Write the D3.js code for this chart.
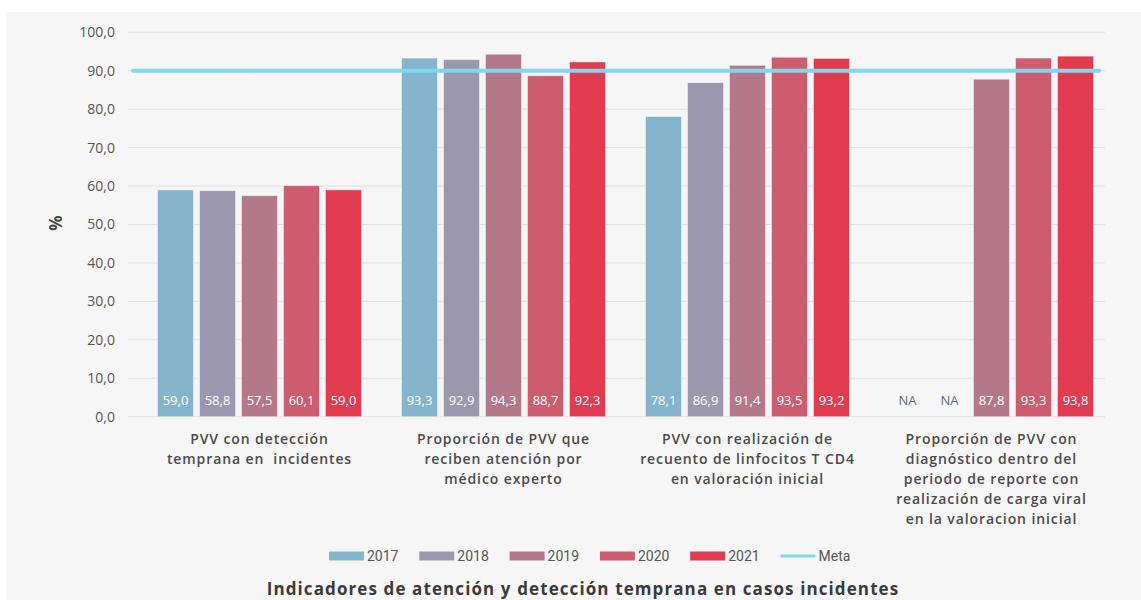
<!DOCTYPE html>
<html>
<head>
<meta charset="utf-8">
<script src="https://cdn.jsdelivr.net/npm/d3@7/dist/d3.min.js"></script>
<style>
  html, body { margin: 0; padding: 0; background: #ffffff; }
  svg { display: block; }
  text { font-family: "Open Sans", "DejaVu Sans", sans-serif; }
</style>
</head>
<body>
<svg id="chart" width="1141" height="600"></svg>
<script>
// Indicator categories (each entry is the wrapped label lines)
const categories = [
  ["PVV con detección", "temprana en  incidentes"],
  ["Proporción de PVV que", "reciben atención por", "médico experto"],
  ["PVV con realización de", "recuento de linfocitos T CD4", "en valoración inicial"],
  ["Proporción de PVV con", "diagnóstico dentro del", "periodo de reporte con", "realización de carga viral", "en la valoracion inicial"]
];
const years = ["2017", "2018", "2019", "2020", "2021"];
// Percentages per year, one value per category (null = not available)
const values2017 = [59.0, 93.3, 78.1, null];
const values2018 = [58.8, 92.9, 86.9, null];
const values2019 = [57.5, 94.3, 91.4, 87.8];
const values2020 = [60.1, 88.7, 93.5, 93.3];
const values2021 = [59.0, 92.3, 93.2, 93.8];
const metaValue = 90;
const yTicks = [0, 10, 20, 30, 40, 50, 60, 70, 80, 90, 100];
const chartTitle = "Indicadores de atención y detección temprana en casos incidentes";
const yLabel = "%";

const seriesValues = [values2017, values2018, values2019, values2020, values2021];
const colors = ["#84b5cc", "#9b97ad", "#b4788b", "#cc5c6e", "#e23b50"];
const metaColor = "#80d8ee";

const svg = d3.select("#chart");
const W = 1141, H = 600;

// panel background
svg.append("rect").attr("x", 6).attr("y", 12).attr("width", W - 6).attr("height", H - 12)
  .attr("fill", "#f6f6f6");

const locale = d3.formatLocale({ decimal: ",", thousands: ".", grouping: [3], currency: ["", ""] });
const fmt = locale.format(".1f");

const y = d3.scaleLinear().domain([0, 100]).range([416.7, 32.3]);
const x0 = d3.scaleBand().domain(d3.range(categories.length)).range([137.5, 1113.5]).padding(0);
const x1 = d3.scaleBand().domain(years).range([20, 224]).paddingInner(1 / 7).paddingOuter(0);

const gridLeft = 128, gridRight = 1105;

// grid lines
svg.append("g").selectAll("line").data(yTicks).join("line")
  .attr("x1", gridLeft).attr("x2", gridRight)
  .attr("y1", d => y(d)).attr("y2", d => y(d))
  .attr("stroke", "#e1e1e1").attr("stroke-width", 1);

// y axis labels
svg.append("g").selectAll("text").data(yTicks).join("text")
  .attr("x", 115).attr("y", d => y(d)).attr("dy", "0.35em")
  .attr("text-anchor", "end").attr("font-size", 14).attr("fill", "#555")
  .text(d => fmt(d));

svg.append("text")
  .attr("transform", "translate(62,223) rotate(-90)")
  .attr("text-anchor", "middle").attr("font-size", 17).attr("font-weight", 700).attr("fill", "#444")
  .text(yLabel);

// bars
const groups = svg.append("g").selectAll("g").data(categories).join("g")
  .attr("transform", (d, i) => `translate(${x0(i)},0)`);

groups.each(function (cat, ci) {
  const g = d3.select(this);
  const rows = years.map((yr, si) => ({ yr, si, v: seriesValues[si][ci] }));
  g.selectAll("rect").data(rows.filter(r => r.v != null)).join("rect")
    .attr("x", r => x1(r.yr)).attr("width", x1.bandwidth())
    .attr("y", r => y(r.v)).attr("height", r => y(0) - y(r.v))
    .attr("fill", r => colors[r.si])
    .attr("stroke", "rgba(255,255,255,0.45)").attr("stroke-width", 1);
  g.selectAll("text.val").data(rows).join("text").attr("class", "val")
    .attr("x", r => x1(r.yr) + x1.bandwidth() / 2).attr("y", 405)
    .attr("text-anchor", "middle").attr("font-size", 13)
    .attr("fill", r => r.v == null ? "#566a84" : "#ffffff")
    .text(r => r.v == null ? "NA" : fmt(r.v));
});

// target line
svg.append("line")
  .attr("x1", 133).attr("x2", 1099).attr("y1", y(metaValue)).attr("y2", y(metaValue))
  .attr("stroke", metaColor).attr("stroke-width", 4).attr("stroke-linecap", "round");

// category labels
const catG = svg.append("g").selectAll("text").data(categories).join("text")
  .attr("x", (d, i) => x0(i) + x0.bandwidth() / 2).attr("y", 444)
  .attr("text-anchor", "middle").attr("font-size", 14).attr("font-weight", 600).attr("fill", "#4a4a4a")
  .attr("letter-spacing", 0.9)
  .attr("xml:space", "preserve").style("white-space", "pre");
catG.each(function (lines) {
  const t = d3.select(this);
  const cx = t.attr("x");
  lines.forEach((ln, k) => {
    t.append("tspan").attr("x", cx).attr("dy", k === 0 ? 0 : 20).text(ln);
  });
});

// legend
const legendItems = years.map((yr, i) => ({ label: yr, color: colors[i], type: "bar" }))
  .concat([{ label: "Meta", color: metaColor, type: "line" }]);
const legend = svg.append("g").selectAll("g").data(legendItems).join("g")
  .attr("transform", (d, i) => `translate(${329 + i * 90.3},556)`);
legend.each(function (d) {
  const g = d3.select(this);
  if (d.type === "bar") {
    g.append("rect").attr("x", 0).attr("y", -4.5).attr("width", 35).attr("height", 9).attr("fill", d.color);
  } else {
    g.append("line").attr("x1", 0).attr("x2", 35).attr("y1", 0).attr("y2", 0)
      .attr("stroke", d.color).attr("stroke-width", 3);
  }
  g.append("text").attr("x", 38).attr("y", 0).attr("dy", "0.35em")
    .attr("font-size", 14).attr("fill", "#555")
    .style("font-family", "'Liberation Sans Narrow', 'Roboto', sans-serif")
    .text(d.label);
});

// title
svg.append("text").attr("x", 583).attr("y", 589).attr("dy", "0.35em")
  .attr("text-anchor", "middle").attr("font-size", 17).attr("font-weight", 700).attr("fill", "#3a3a3a")
  .attr("letter-spacing", 1.1)
  .text(chartTitle);
</script>
</body>
</html>
